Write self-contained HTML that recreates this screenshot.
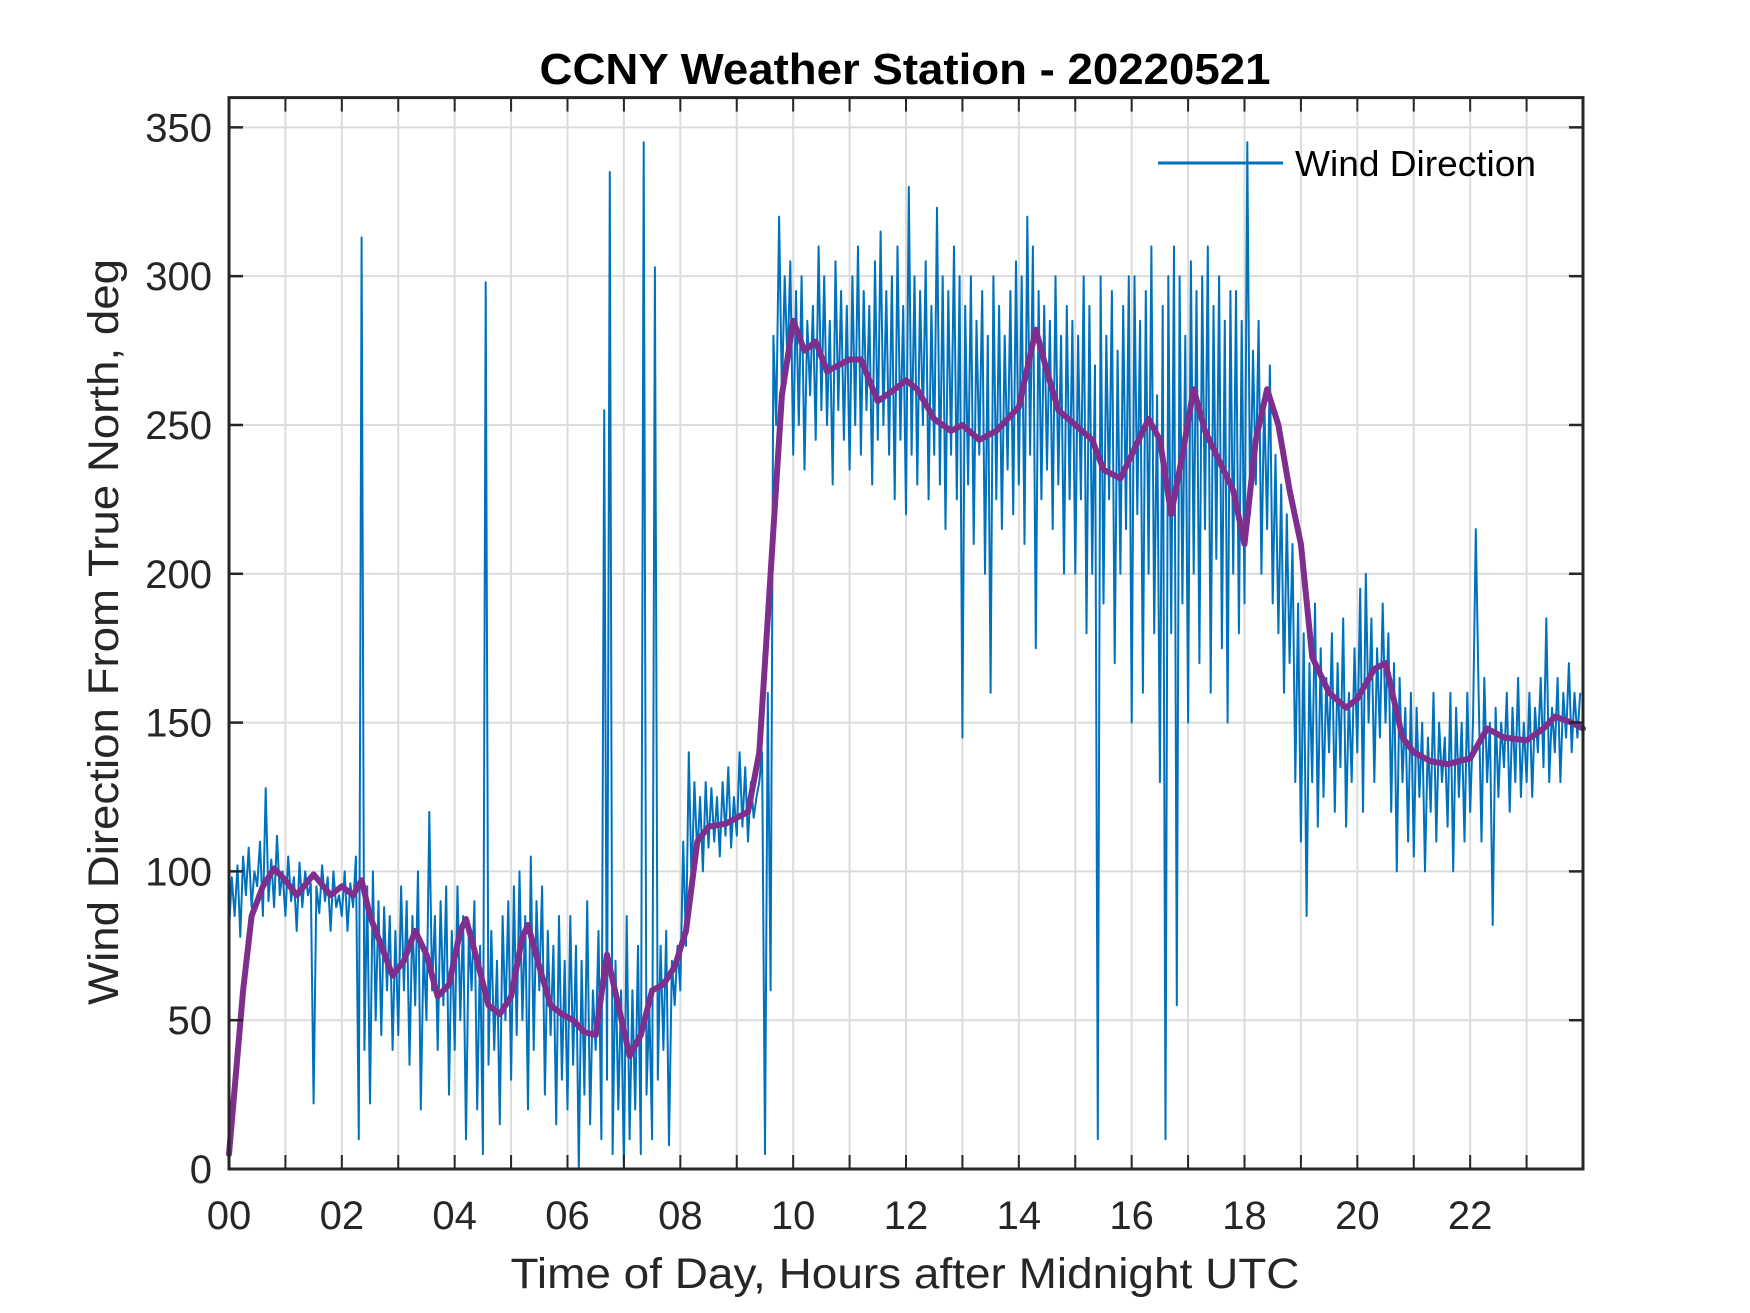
<!DOCTYPE html>
<html><head><meta charset="utf-8"><style>
html,body{margin:0;padding:0;background:#fff;}
svg{display:block;font-family:"Liberation Sans",Arial,sans-serif;}
</style></head><body>
<svg id="chart" width="1750" height="1313" viewBox="0 0 1750 1313" xmlns="http://www.w3.org/2000/svg">
<rect width="1750" height="1313" fill="#fff"/>
<g id="grid"></g>
<g id="series"></g>
<g id="axes"></g>
<text x="905" y="84" text-anchor="middle" font-size="44" font-weight="bold" fill="#000" textLength="731" lengthAdjust="spacingAndGlyphs">CCNY Weather Station - 20220521</text>
<text x="905" y="1288" text-anchor="middle" font-size="43" fill="#262626" textLength="789" lengthAdjust="spacingAndGlyphs">Time of Day, Hours after Midnight UTC</text>
<text transform="translate(118,632) rotate(-90)" text-anchor="middle" font-size="43" fill="#262626" textLength="746" lengthAdjust="spacingAndGlyphs">Wind Direction From True North, deg</text>
<g>
<line x1="1158" y1="163" x2="1283" y2="163" stroke="#0072BD" stroke-width="3"/>
<text x="1295" y="176" font-size="36" fill="#000" textLength="241" lengthAdjust="spacingAndGlyphs">Wind Direction</text>
</g>
</svg>
<script>
const xTickLabels = ["00","02","04","06","08","10","12","14","16","18","20","22"];
const yTicks = [0,50,100,150,200,250,300,350];
const windStep = 0.05;
const windValues = [
80,98,85,102,78,105,92,108,88,100,95,110,85,128,90,104,88,112,92,100,
85,105,90,98,80,103,88,100,92,96,22,95,86,102,90,98,80,100,88,92,
85,100,80,96,88,105,10,313,40,95,22,100,50,90,45,88,60,85,40,80,
45,95,60,90,35,85,55,100,20,75,50,120,60,85,40,90,55,95,25,80,
40,95,50,85,10,80,60,90,20,75,5,298,35,80,40,70,15,85,50,90,
30,95,45,100,50,85,20,105,40,90,60,95,25,80,45,75,15,85,30,70,
20,85,35,75,0,70,25,90,15,60,40,80,10,255,30,335,5,70,20,60,
0,85,10,60,20,75,5,345,25,55,10,303,30,75,40,80,8,70,55,75,
60,110,75,140,95,130,105,125,100,130,108,128,110,125,105,130,112,135,108,125,
112,140,115,135,110,130,118,125,130,140,5,160,60,280,250,320,260,300,270,305,
240,295,250,300,235,285,260,290,245,310,255,300,250,285,230,305,255,295,245,290,
235,300,250,310,240,295,255,290,230,305,245,315,250,295,240,300,225,310,245,290,
220,330,240,300,230,295,250,305,225,290,240,323,230,300,215,295,240,310,225,300,
145,290,230,300,210,285,240,295,200,280,160,300,225,290,215,280,235,295,220,305,
230,300,210,320,240,310,175,295,225,290,235,285,215,300,230,280,200,290,225,285,
200,280,225,300,180,290,200,270,10,300,190,280,225,295,170,275,200,290,215,300,
150,300,220,285,160,295,200,310,180,260,130,290,10,300,180,310,55,300,190,280,
150,305,200,295,170,300,215,310,160,290,205,300,175,285,150,295,200,295,180,285,
190,345,220,275,230,285,200,260,215,270,190,240,180,230,160,220,170,210,130,190,
110,180,85,170,130,190,115,175,125,165,140,180,120,170,135,185,115,160,130,175,
140,195,120,200,150,185,130,175,145,190,150,180,120,170,100,165,130,155,110,160,
105,155,125,150,100,145,120,160,110,150,130,145,115,160,100,155,125,150,110,160,
120,150,215,160,110,165,130,150,82,155,125,150,135,160,120,155,130,165,125,150,
130,160,125,155,140,165,135,185,130,155,140,165,130,160,145,170,140,160,145,160];
const smoothHours = [0,0.25,0.4,0.6,0.8,1.0,1.2,1.5,1.8,2.0,2.2,2.35,2.5,2.7,2.9,3.1,3.3,3.5,3.7,3.9,4.1,4.2,4.4,4.6,4.8,5.0,5.2,5.3,5.5,5.7,5.9,6.1,6.3,6.5,6.7,6.9,7.1,7.3,7.5,7.7,7.9,8.1,8.3,8.5,8.8,9.2,9.4,9.6,9.8,10.0,10.2,10.4,10.6,10.8,11.0,11.2,11.5,11.8,12.0,12.2,12.5,12.8,13.0,13.3,13.6,14.0,14.3,14.5,14.7,15.0,15.3,15.5,15.8,16.0,16.3,16.5,16.7,16.9,17.1,17.3,17.5,17.8,18.0,18.2,18.4,18.6,18.8,19.0,19.2,19.5,19.8,20.0,20.3,20.5,20.8,21.0,21.3,21.6,22.0,22.3,22.6,23.0,23.3,23.5,23.8,24.0];
const smoothValues = [5,60,85,95,101,97,92,99,92,95,92,97,85,75,65,70,80,72,58,62,80,84,70,55,52,58,78,82,68,55,52,50,46,45,72,55,38,45,60,62,68,80,110,115,116,120,140,200,260,285,275,278,268,270,272,272,258,262,265,262,252,248,250,245,248,256,282,268,255,250,245,235,232,240,252,245,220,240,262,248,240,228,210,245,262,250,228,210,172,160,155,158,168,170,145,140,137,136,138,148,145,144,148,152,150,148];

const L=229, R=1583, T=97.6, B=1169;
const xs = h => L + (h/24)*(R-L);
const ys = v => B - (v/360)*(B-T);
const NS="http://www.w3.org/2000/svg";
function mk(tag, parent, attrs){const e=document.createElementNS(NS,tag);for(const k in attrs)e.setAttribute(k,attrs[k]);parent.appendChild(e);return e;}
const grid=document.getElementById('grid'), axes=document.getElementById('axes'), series=document.getElementById('series');
for(let h=1;h<24;h++){
  const g=mk('line',grid,{x1:xs(h),x2:xs(h),y1:T,y2:B,stroke:'#dcdcdc','stroke-width':2});
  
  
  const t1=mk('line',axes,{x1:xs(h),x2:xs(h),y1:B,y2:B-14,stroke:'#262626','stroke-width':2});
  
  
  const t2=mk('line',axes,{x1:xs(h),x2:xs(h),y1:T,y2:T+14,stroke:'#262626','stroke-width':2});
  
  
}
xTickLabels.forEach((lab,i)=>{
  const t=mk('text',axes,{x:xs(i*2),y:1229,'text-anchor':'middle','font-size':40,fill:'#262626'});
  t.textContent=lab;
  
  
});
yTicks.forEach(v=>{
  if(v>0){const g=mk('line',grid,{x1:L,x2:R,y1:ys(v),y2:ys(v),stroke:'#dcdcdc','stroke-width':2});
  
  }
  const a=mk('line',axes,{x1:L,x2:L+14,y1:ys(v),y2:ys(v),stroke:'#262626','stroke-width':2.5});
  
  
  const b=mk('line',axes,{x1:R,x2:R-14,y1:ys(v),y2:ys(v),stroke:'#262626','stroke-width':2.5});
  
  
  const t=mk('text',axes,{x:L-17,y:ys(v)+14,'text-anchor':'end','font-size':40,fill:'#262626'});
  t.textContent=String(v);
  
  
});
const box=mk('rect',axes,{x:L,y:T,width:R-L,height:B-T,fill:'none',stroke:'#262626','stroke-width':3});


const wp=windValues.map((v,i)=>xs(i*windStep).toFixed(1)+','+ys(v).toFixed(1)).join(' ');
const wl=mk('polyline',series,{points:wp,fill:'none',stroke:'#0072BD','stroke-width':2,'stroke-linejoin':'round'});


const sp=smoothValues.map((v,i)=>xs(smoothHours[i]).toFixed(1)+','+ys(v).toFixed(1)).join(' ');
const sl=mk('polyline',series,{points:sp,fill:'none',stroke:'#7E2F8E','stroke-width':6,'stroke-linejoin':'round','stroke-linecap':'round'});


</script>
</body></html>
